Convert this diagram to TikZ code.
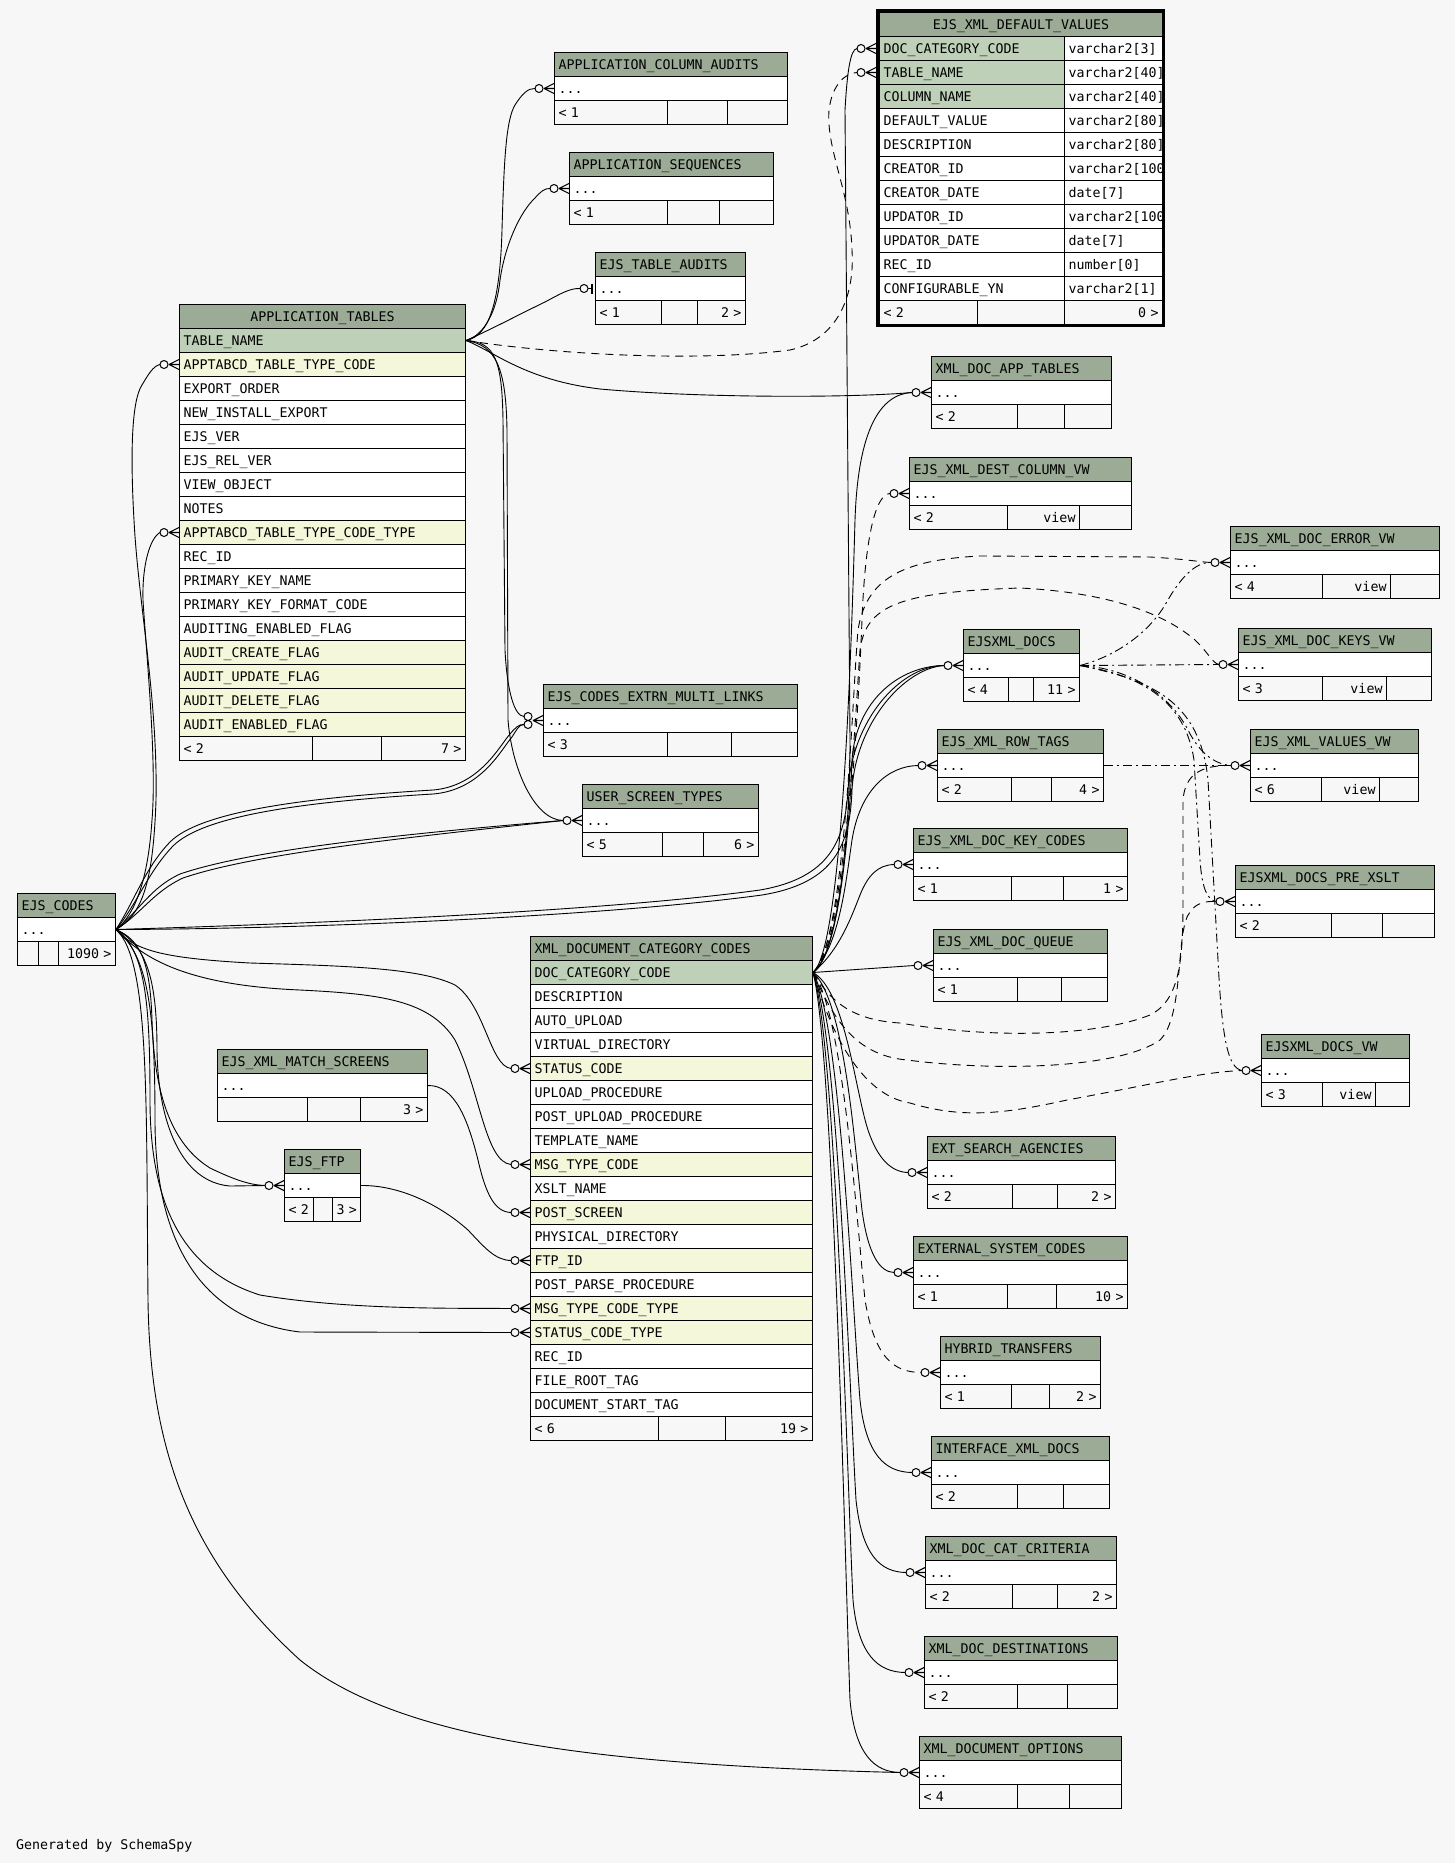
\documentclass[tikz,border=0pt]{standalone}
\usepackage{fontspec}
\newfontfamily\monof{DejaVu Sans Mono}
\usetikzlibrary{calc}
\definecolor{bgc}{HTML}{F7F7F7}
\definecolor{hdc}{HTML}{9BAB96}
\definecolor{pkc}{HTML}{BED1B8}
\definecolor{ixc}{HTML}{F4F7DA}
\pgfdeclarelayer{back}\pgfdeclarelayer{lines}\pgfsetlayers{back,lines,main}
\tikzset{
 cell/.style={draw=black, line width=1pt, anchor=north west, minimum height=24pt, inner xsep=4pt, inner ysep=0pt, text height=9.7pt, text depth=0pt, font=\monof\fontsize{13.3pt}{16pt}\selectfont, align=left},
 hd/.style={fill=hdc},
 hdm/.style={fill=hdc, align=center},
 pk/.style={fill=pkc},
 ix/.style={fill=ixc},
 pl/.style={fill=white},
 fl/.style={fill=bgc, align=left},
 fr/.style={fill=bgc, align=right},
 fk/.style={draw=black, line width=0.9pt},
 imp/.style={fk, dash pattern=on 8pt off 6pt},
 dd/.style={fk, dash pattern=on 9pt off 4pt on 2pt off 4pt},
 crowline/.style={line width=1.1pt},
 ring/.style={line width=1pt, fill=bgc}
}
\newcommand\tcell[6]{\pgfmathsetmacro\tw{#5-8}\node[cell,#2,text width=\tw pt] (#1) at (#3,{#4}) {#6};}
\newcommand\tfoot[9]{%
 \tcell{#1-f1}{fl}{#2}{#3}{#4-#2}{\mbox{#7}}%
 \tcell{#1-f2}{fr}{#4}{#3}{#5-#4}{\mbox{#8}}%
 \tcell{#1-f3}{fr}{#5}{#3}{#6-#5}{\mbox{#9}}}
\newcommand\tcoll[5]{%
 \tcell{#1}{hd}{#2}{#3}{#4}{#5}%
 \tcell{#1-r}{pl}{#2}{#3+24}{#4}{...}%
 \coordinate (#1-in) at ([xshift=-19pt]#1-r.west);}
\newcommand\crowft[1]{\begin{scope}[shift={(#1)}]
 \draw[crowline] (-10,0) -- (0,-5) (-10,0) -- (0,0) (-10,0) -- (0,5);
 \draw[ring] (-15,0) circle[radius=4pt];
\end{scope}}
\newcommand\crowtw[1]{\begin{scope}[shift={(#1)}]
 \draw[crowline] (-10,0) -- (0,-5) (-10,0) -- (0,0) (-10,0) -- (0,5);
 \draw[ring] (-15,-4) circle[radius=4pt] (-15,4) circle[radius=4pt];
\end{scope}}
\newcommand\zeroone[1]{\begin{scope}[shift={(#1)}]
 \draw[line width=2.2pt] (-3,-5) -- (-3,5);
 \draw[line width=1pt] (-7,0) -- (-3,0);
 \draw[ring] (-11,0) circle[radius=4pt];
\end{scope}}

\begin{document}
\begin{tikzpicture}[x=1pt,y=-1pt]
\useasboundingbox (0,0) rectangle (1455,1863);
\begin{pgfonlayer}{back}
\fill[bgc] (0,0) rectangle (1455,1863);
\end{pgfonlayer}

% ---------- EJS_XML_DEFAULT_VALUES ----------
\tcell{dv}{hdm}{879}{12}{283}{EJS\_XML\_DEFAULT\_VALUES\hspace*{24pt}}
\foreach \st/\nm [count=\i] in {pk/DOC\_CATEGORY\_CODE, pk/TABLE\_NAME, pk/COLUMN\_NAME, pl/DEFAULT\_VALUE, pl/DESCRIPTION, pl/CREATOR\_ID, pl/CREATOR\_DATE, pl/UPDATOR\_ID, pl/UPDATOR\_DATE, pl/REC\_ID, pl/CONFIGURABLE\_YN}
 {\tcell{dv-\i}{\st}{879}{12+24*\i}{185}{\nm}}
\begin{scope}
\clip (1060,0) rectangle (1163,330);
\foreach \ty [count=\i] in {{varchar2[3]},{varchar2[40]},{varchar2[40]},{varchar2[80]},{varchar2[80]},{varchar2[100]},{date[7]},{varchar2[100]},{date[7]},{number[0]},{varchar2[1]}}
 {\tcell{dvt-\i}{pl}{1064}{12+24*\i}{98}{\ty}}
\end{scope}
\tfoot{dv}{879}{300}{977}{1064}{1162}{< 2}{}{0 >}
\draw[line width=3pt] (877.5,10.5) rectangle (1163.5,325.5);
\coordinate (dv1-in) at ([xshift=-22pt]dv-1.west);
\coordinate (dv2-in) at ([xshift=-22pt]dv-2.west);

% ---------- APPLICATION_TABLES ----------
\tcell{at}{hdm}{179}{304}{286}{APPLICATION\_TABLES\hspace*{16pt}}
\foreach \st/\nm [count=\i] in {pk/TABLE\_NAME, ix/APPTABCD\_TABLE\_TYPE\_CODE, pl/EXPORT\_ORDER, pl/NEW\_INSTALL\_EXPORT, pl/EJS\_VER, pl/EJS\_REL\_VER, pl/VIEW\_OBJECT, pl/NOTES, ix/APPTABCD\_TABLE\_TYPE\_CODE\_TYPE, pl/REC\_ID, pl/PRIMARY\_KEY\_NAME, pl/PRIMARY\_KEY\_FORMAT\_CODE, pl/AUDITING\_ENABLED\_FLAG, ix/AUDIT\_CREATE\_FLAG, ix/AUDIT\_UPDATE\_FLAG, ix/AUDIT\_DELETE\_FLAG, ix/AUDIT\_ENABLED\_FLAG}
 {\tcell{at-\i}{\st}{179}{304+24*\i}{286}{\nm}}
\tfoot{at}{179}{736}{312}{381}{465}{< 2}{}{7 >}
\coordinate (at2-in) at ([xshift=-19pt]at-2.west);
\coordinate (at9-in) at ([xshift=-19pt]at-9.west);

% ---------- XML_DOCUMENT_CATEGORY_CODES ----------
\tcell{xd}{hd}{530}{936}{282}{XML\_DOCUMENT\_CATEGORY\_CODES}
\foreach \st/\nm [count=\i] in {pk/DOC\_CATEGORY\_CODE, pl/DESCRIPTION, pl/AUTO\_UPLOAD, pl/VIRTUAL\_DIRECTORY, ix/STATUS\_CODE, pl/UPLOAD\_PROCEDURE, pl/POST\_UPLOAD\_PROCEDURE, pl/TEMPLATE\_NAME, ix/MSG\_TYPE\_CODE, pl/XSLT\_NAME, ix/POST\_SCREEN, pl/PHYSICAL\_DIRECTORY, ix/FTP\_ID, pl/POST\_PARSE\_PROCEDURE, ix/MSG\_TYPE\_CODE\_TYPE, ix/STATUS\_CODE\_TYPE, pl/REC\_ID, pl/FILE\_ROOT\_TAG, pl/DOCUMENT\_START\_TAG}
 {\tcell{xd-\i}{\st}{530}{936+24*\i}{282}{\nm}}
\tfoot{xd}{530}{1416}{658}{725}{812}{< 6}{}{19 >}
\foreach \k in {5,9,11,13,15,16}{\coordinate (xd\k-in) at ([xshift=-19pt]xd-\k.west);}

% ---------- collapsed tables ----------
\tcoll{aca}{554}{52}{233}{APPLICATION\_COLUMN\_AUDITS}
\tfoot{aca}{554}{100}{667}{727}{787}{< 1}{}{}
\tcoll{as}{569}{152}{204}{APPLICATION\_SEQUENCES}
\tfoot{as}{569}{200}{667}{719}{773}{< 1}{}{}
\tcoll{eta}{595}{252}{150}{EJS\_TABLE\_AUDITS}
\tfoot{eta}{595}{300}{661}{697}{745}{< 1}{}{2 >}
\coordinate (eta-z) at ([xshift=-15pt]eta-r.west);
\tcoll{xdat}{931}{356}{180}{XML\_DOC\_APP\_TABLES}
\tfoot{xdat}{931}{404}{1017}{1064}{1111}{< 2}{}{}
\tcoll{dcv}{909}{457}{222}{EJS\_XML\_DEST\_COLUMN\_VW}
\tfoot{dcv}{909}{505}{1007}{1079}{1131}{< 2}{view}{}
\tcoll{err}{1230}{526}{209}{EJS\_XML\_DOC\_ERROR\_VW}
\tfoot{err}{1230}{574}{1322}{1390}{1439}{< 4}{view}{}
\tcoll{edocs}{963}{629}{116}{EJSXML\_DOCS}
\tfoot{edocs}{963}{677}{1008}{1033}{1079}{< 4}{}{11 >}
\tcoll{keys}{1238}{628}{193}{EJS\_XML\_DOC\_KEYS\_VW}
\tfoot{keys}{1238}{676}{1322}{1386}{1431}{< 3}{view}{}
\tcoll{rt}{937}{729}{166}{EJS\_XML\_ROW\_TAGS}
\tfoot{rt}{937}{777}{1011}{1051}{1103}{< 2}{}{4 >}
\tcoll{val}{1250}{729}{168}{EJS\_XML\_VALUES\_VW}
\tfoot{val}{1250}{777}{1321}{1379}{1418}{< 6}{view}{}
\tcoll{kc}{913}{828}{214}{EJS\_XML\_DOC\_KEY\_CODES}
\tfoot{kc}{913}{876}{1011}{1063}{1127}{< 1}{}{1 >}
\tcoll{pre}{1235}{865}{199}{EJSXML\_DOCS\_PRE\_XSLT}
\tfoot{pre}{1235}{913}{1331}{1382}{1434}{< 2}{}{}
\tcoll{q}{933}{929}{174}{EJS\_XML\_DOC\_QUEUE}
\tfoot{q}{933}{977}{1017}{1061}{1107}{< 1}{}{}
\tcoll{dvw}{1261}{1034}{148}{EJSXML\_DOCS\_VW}
\tfoot{dvw}{1261}{1082}{1322}{1375}{1409}{< 3}{view}{}
\tcoll{esa}{927}{1136}{188}{EXT\_SEARCH\_AGENCIES}
\tfoot{esa}{927}{1184}{1012}{1057}{1115}{< 2}{}{2 >}
\tcoll{esc}{913}{1236}{214}{EXTERNAL\_SYSTEM\_CODES}
\tfoot{esc}{913}{1284}{1007}{1056}{1127}{< 1}{}{10 >}
\tcoll{ht}{940}{1336}{160}{HYBRID\_TRANSFERS}
\tfoot{ht}{940}{1384}{1011}{1049}{1100}{< 1}{}{2 >}
\tcoll{ixd}{931}{1436}{178}{INTERFACE\_XML\_DOCS}
\tfoot{ixd}{931}{1484}{1017}{1063}{1109}{< 2}{}{}
\tcoll{crit}{925}{1536}{191}{XML\_DOC\_CAT\_CRITERIA}
\tfoot{crit}{925}{1584}{1012}{1057}{1116}{< 2}{}{2 >}
\tcoll{dest}{924}{1636}{193}{XML\_DOC\_DESTINATIONS}
\tfoot{dest}{924}{1684}{1017}{1067}{1117}{< 2}{}{}
\tcoll{opt}{919}{1736}{202}{XML\_DOCUMENT\_OPTIONS}
\tfoot{opt}{919}{1784}{1017}{1069}{1121}{< 4}{}{}
\tcoll{eceml}{543}{684}{254}{EJS\_CODES\_EXTRN\_MULTI\_LINKS}
\tfoot{eceml}{543}{732}{667}{731}{797}{< 3}{}{}
\coordinate (eceml-a) at ([xshift=-19pt,yshift=4pt]eceml-r.west);
\coordinate (eceml-b) at ([xshift=-19pt,yshift=-4pt]eceml-r.west);
\tcoll{ust}{582}{784}{176}{USER\_SCREEN\_TYPES}
\tfoot{ust}{582}{832}{662}{703}{758}{< 5}{}{6 >}
\tcoll{ec}{17}{893}{98}{EJS\_CODES}
\tfoot{ec}{17}{941}{38}{58}{115}{}{}{1090 >}
\tcoll{ms}{217}{1049}{210}{EJS\_XML\_MATCH\_SCREENS}
\tfoot{ms}{217}{1097}{307}{360}{427}{}{}{3 >}
\tcoll{ftp}{284}{1149}{76}{EJS\_FTP}
\tfoot{ftp}{284}{1197}{313}{332}{360}{< 2}{}{3 >}

\node[anchor=base west, inner sep=0pt, font=\monof\fontsize{13.3pt}{16pt}\selectfont] (gen) at (16,1849) {Generated by SchemaSpy};

% ---------- connectors ----------
\begin{pgfonlayer}{lines}
% from APPLICATION_TABLES
\draw[fk] (at-1.east) .. controls (490,336) and (500,300) .. (502,230) .. controls (504,160) and (506,120) .. (515,105) .. controls (522,94) and (528,88) .. (aca-in);
\draw[fk] (at-1.east) .. controls (485,335) and (497,310) .. (500,280) .. controls (505,245) and (520,212) .. (535,198) .. controls (540,192) and (545,188) .. (as-in);
\draw[fk] (at-1.east) .. controls (490,330) and (520,314) .. (545,302) .. controls (560,294) and (570,288) .. (eta-z);
\draw[fk] (at-1.east) .. controls (495,352) and (525,380) .. (600,389) .. controls (700,398) and (850,398) .. (xdat-in);
\draw[fk] (at-1.east) .. controls (495,342) and (502,360) .. (503,420) -- (505,650) .. controls (507,690) and (514,716) .. (eceml-a);
\draw[fk] (at-1.east) .. controls (497,345) and (506,370) .. (507,430) -- (508,720) .. controls (512,770) and (535,820) .. (ust-in);
\draw[imp] (at-1.east) .. controls (560,355) and (700,362) .. (790,350) .. controls (835,340) and (855,300) .. (852,250) .. controls (850,190) and (826,150) .. (829,110) .. controls (832,85) and (845,73) .. (dv2-in);
% from EJS_CODES
\draw[fk] (ec-r.east) .. controls (140,915) and (153,890) .. (156,800) .. controls (158,700) and (138,600) .. (134,520) .. controls (130,450) and (132,400) .. (142,385) .. controls (148,375) and (153,366) .. (at2-in);
\draw[fk] (ec-r.east) .. controls (135,915) and (148,880) .. (152,820) .. controls (157,760) and (146,650) .. (143,600) .. controls (142,565) and (150,538) .. (at9-in);
\draw[fk] (ec-r.east) .. controls (135,900) and (145,868) .. (170,842) .. controls (200,812) and (300,798) .. (433,790) .. controls (480,786) and (500,745) .. (510,734) .. controls (515,728) and (519,724) .. (eceml-b);
\draw[fk] (ec-r.east) .. controls (137,904) and (148,872) .. (173,846) .. controls (203,816) and (300,802) .. (433,794) .. controls (482,790) and (502,748) .. (512,737) .. controls (516,731) and (519,724) .. (eceml-b);
\draw[fk] (ec-r.east) .. controls (140,910) and (150,888) .. (180,874) .. controls (250,850) and (400,834) .. (ust-in);
\draw[fk] (ec-r.east) .. controls (142,913) and (153,892) .. (183,878) .. controls (253,854) and (400,838) .. (ust-in);
\draw[fk] (ec-r.east) .. controls (300,924) and (600,912) .. (760,890) .. controls (830,878) and (845,840) .. (848,790) .. controls (852,720) and (900,666) .. (edocs-in);
\draw[fk] (ec-r.east) .. controls (300,929) and (600,917) .. (762,895) .. controls (835,883) and (850,845) .. (852,790) .. controls (856,722) and (905,668) .. (edocs-in);
\draw[fk] (ec-r.east) .. controls (135,950) and (160,958) .. (250,963) .. controls (350,966) and (420,968) .. (455,985) .. controls (485,1005) and (490,1066) .. (xd5-in);
\draw[fk] (ec-r.east) .. controls (140,955) and (180,985) .. (300,990) .. controls (380,994) and (430,1000) .. (455,1040) .. controls (480,1090) and (485,1162) .. (xd9-in);
\draw[fk] (ec-r.east) .. controls (140,940) and (150,960) .. (152,1020) .. controls (154,1080) and (165,1140) .. (210,1168) .. controls (235,1180) and (250,1185) .. (ftp-in);
\draw[fk] (ec-r.east) .. controls (145,945) and (157,975) .. (157,1050) .. controls (158,1120) and (180,1182) .. (230,1186) -- (ftp-in);
\draw[fk] (ec-r.east) .. controls (145,950) and (150,1000) .. (150,1100) .. controls (150,1200) and (180,1270) .. (260,1295) .. controls (350,1310) and (450,1308) .. (xd15-in);
\draw[fk] (ec-r.east) .. controls (148,955) and (155,1010) .. (155,1120) .. controls (155,1240) and (200,1320) .. (300,1332) -- (xd16-in);
\draw[fk] (ec-r.east) .. controls (150,960) and (146,1100) .. (148,1300) .. controls (150,1450) and (190,1560) .. (300,1660) .. controls (400,1740) and (600,1765) .. (opt-in);
% other parents of XML_DOCUMENT_CATEGORY_CODES
\draw[fk] (ms-r.east) .. controls (455,1085) and (468,1120) .. (478,1160) .. controls (486,1195) and (495,1212) .. (xd11-in);
\draw[fk] (ftp-r.east) .. controls (400,1185) and (440,1205) .. (468,1230) .. controls (485,1248) and (495,1260) .. (xd13-in);
% from XML_DOCUMENT_CATEGORY_CODES
\draw[fk] (xd-1.east) .. controls (835,960) and (850,850) .. (850,740) -- (845,110) .. controls (847,75) and (850,49) .. (dv1-in);
\draw[fk] (xd-1.east) .. controls (840,950) and (850,700) .. (855,520) .. controls (858,430) and (880,394) .. (xdat-in);
\draw[fk] (xd-1.east) .. controls (840,955) and (850,820) .. (852,760) .. controls (856,700) and (900,666) .. (edocs-in);
\draw[fk] (xd-1.east) .. controls (840,945) and (846,880) .. (852,840) .. controls (860,790) and (888,766) .. (rt-in);
\draw[fk] (xd-1.east) .. controls (840,950) and (852,915) .. (860,895) .. controls (868,875) and (878,865) .. (kc-in);
\draw[fk] (xd-1.east) -- (q-in);
\draw[fk] (xd-1.east) .. controls (845,990) and (855,1090) .. (868,1130) .. controls (878,1160) and (892,1172) .. (esa-in);
\draw[fk] (xd-1.east) .. controls (845,1000) and (855,1150) .. (862,1210) .. controls (868,1255) and (880,1272) .. (esc-in);
\draw[imp] (xd-1.east) .. controls (842,1010) and (855,1200) .. (865,1300) .. controls (875,1360) and (895,1372) .. (ht-in);
\draw[fk] (xd-1.east) .. controls (840,1020) and (852,1300) .. (860,1400) .. controls (866,1455) and (885,1472) .. (ixd-in);
\draw[fk] (xd-1.east) .. controls (838,1030) and (850,1400) .. (856,1500) .. controls (862,1555) and (880,1572) .. (crit-in);
\draw[fk] (xd-1.east) .. controls (836,1040) and (848,1500) .. (853,1600) .. controls (858,1655) and (878,1672) .. (dest-in);
\draw[fk] (xd-1.east) .. controls (834,1050) and (846,1600) .. (850,1700) .. controls (855,1755) and (875,1772) .. (opt-in);
\draw[imp] (xd-1.east) .. controls (845,950) and (858,720) .. (862,620) .. controls (865,540) and (875,494) .. (dcv-in);
\draw[imp] (xd-1.east) .. controls (845,945) and (852,700) .. (858,630) .. controls (866,580) and (900,560) .. (980,556) -- (1150,557) .. controls (1185,559) and (1200,562) .. (err-in);
\draw[imp] (xd-1.east) .. controls (845,940) and (855,720) .. (860,650) .. controls (866,605) and (900,592) .. (1020,588) .. controls (1100,592) and (1160,610) .. (1195,640) .. controls (1208,652) and (1212,663) .. (keys-in);
\draw[imp] (xd-1.east) .. controls (830,1000) and (850,1020) .. (900,1023) .. controls (1000,1040) and (1100,1035) .. (1150,1015) .. controls (1180,1000) and (1183,960) .. (1183,900) -- (1183,800) .. controls (1185,775) and (1200,765) .. (val-in);
\draw[imp] (xd-1.east) .. controls (830,1010) and (850,1055) .. (907,1060) .. controls (1000,1072) and (1120,1068) .. (1160,1040) .. controls (1185,1015) and (1175,930) .. (1190,912) .. controls (1196,903) and (1205,901) .. (pre-in);
\draw[imp] (xd-1.east) .. controls (830,1030) and (860,1095) .. (910,1103) .. controls (960,1118) and (1000,1115) .. (1067,1100) .. controls (1150,1085) and (1200,1072) .. (dvw-in);
% from EJSXML_DOCS and EJS_XML_ROW_TAGS
\draw[dd] (edocs-r.east) .. controls (1120,655) and (1150,630) .. (1165,605) .. controls (1180,578) and (1195,562) .. (err-in);
\draw[dd] (edocs-r.east) -- (keys-in);
\draw[dd] (edocs-r.east) .. controls (1130,668) and (1170,695) .. (1188,730) .. controls (1198,750) and (1212,764) .. (val-in);
\draw[dd] (edocs-r.east) .. controls (1140,675) and (1185,700) .. (1194,760) -- (1200,860) .. controls (1202,890) and (1208,900) .. (pre-in);
\draw[dd] (edocs-r.east) .. controls (1150,680) and (1200,700) .. (1208,780) -- (1218,960) .. controls (1222,1040) and (1228,1068) .. (dvw-in);
\draw[dd] (rt-r.east) -- (val-in);
\end{pgfonlayer}

% ---------- end marks ----------
\foreach \nd in {aca-r,as-r,xdat-r,dcv-r,err-r,edocs-r,keys-r,rt-r,val-r,kc-r,pre-r,q-r,dvw-r,esa-r,esc-r,ht-r,ixd-r,crit-r,dest-r,opt-r,ust-r,ftp-r,at-2,at-9,xd-5,xd-9,xd-11,xd-13,xd-15,xd-16}
 {\crowft{\nd.west}}
\crowft{[xshift=-3pt]dv-1.west}
\crowft{[xshift=-3pt]dv-2.west}
\crowtw{eceml-r.west}
\zeroone{eta-r.west}
\end{tikzpicture}
\end{document}
